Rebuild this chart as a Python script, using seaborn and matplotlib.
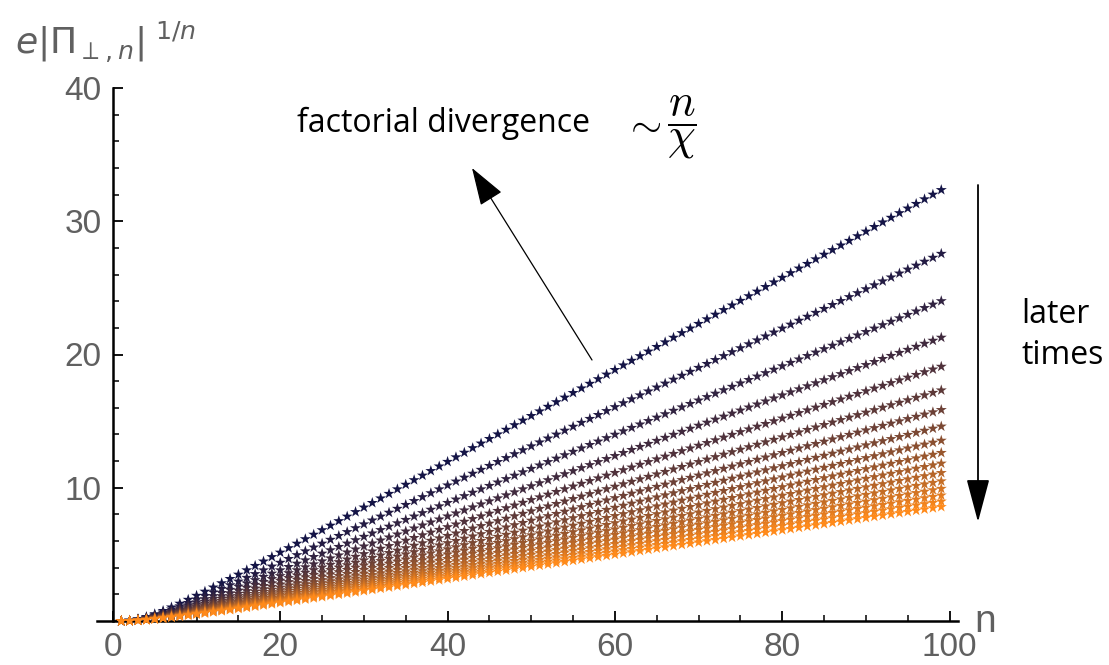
import numpy as np
import pandas as pd
import matplotlib
matplotlib.use("Agg")
import matplotlib.pyplot as plt
import seaborn as sns
from matplotlib.ticker import MultipleLocator

# ---- data ----
n_values = list(range(1, 100))
chi_values = [2.88, 3.38, 3.88, 4.38, 4.88, 5.38, 5.88, 6.38, 6.88,
              7.38, 7.88, 8.38, 8.88, 9.38, 9.88, 10.38, 10.88]
offset_b = 6.0
x_ticks = [0, 20, 40, 60, 80, 100]
y_ticks = [10, 20, 30, 40]

rows = []
for k, chi in enumerate(chi_values):
    for n in n_values:
        rows.append({"n": n, "val": (n / chi) * np.exp(-offset_b / n), "curve": k})
df = pd.DataFrame(rows)

# colours: navy -> orange
c0 = np.array([0x14, 0x14, 0x46]) / 255
c1 = np.array([0xff, 0x8a, 0x1a]) / 255
palette = [tuple(c0 + (c1 - c0) * t) for t in np.linspace(0, 1, len(chi_values))]

sns.set_theme(style="white")
plt.rcParams['font.family'] = ['Liberation Sans', 'DejaVu Sans']
plt.rcParams['mathtext.fontset'] = 'dejavusans'

W, H = 1109, 665
fig = plt.figure(figsize=(W / 100, H / 100), dpi=100)
ax = fig.add_axes([97 / W, 1 - 621 / H, 861 / W, (621 - 88) / H])

sns.scatterplot(data=df, x="n", y="val", hue="curve", palette=palette,
                marker="*", s=70, linewidth=0, legend=False, ax=ax,
                clip_on=False, zorder=3)

ax.set_xlim(-1.9, 101)
ax.set_ylim(0, 40)
ax.set_xlabel("")
ax.set_ylabel("")

for s in ["top", "right"]:
    ax.spines[s].set_visible(False)
ax.spines["left"].set_position(("data", 0))
for s in ["left", "bottom"]:
    ax.spines[s].set_color("black")
    ax.spines[s].set_linewidth(1.8)

gray = "#606060"
ax.set_xticks(x_ticks)
ax.set_yticks(y_ticks)
ax.xaxis.set_minor_locator(MultipleLocator(5))
ax.yaxis.set_minor_locator(MultipleLocator(2))
ax.tick_params(axis="both", which="major", direction="in", length=7, width=1.3,
               color="black", labelsize=24, labelcolor=gray, pad=8,
               bottom=True, left=True)
ax.tick_params(axis="both", which="minor", direction="in", length=4.5, width=1.1,
               color="black", bottom=True, left=True)
ax.grid(False)

# axis labels
fig.text(985 / W, 1 - 622 / H, "n", fontsize=28, color=gray, ha="center", va="center")
fig.text(15 / W, 1 - 42 / H, r"$e|\Pi_{\perp,n}|^{\ 1/n}$", fontsize=26,
         color=gray, ha="left", va="center")

# annotations
fig.text(297 / W, 1 - 123 / H, "factorial divergence", fontsize=23,
         family="Open Sans", color="black", ha="left", va="center")
fig.text(642 / W, 1 - 124 / H, r"$\sim$", fontsize=29,
         math_fontfamily="cm", color="black", ha="center", va="center")
fig.text(682 / W, 1 - 127 / H, r"$\dfrac{n}{\chi}$", fontsize=32,
         math_fontfamily="cm", color="black", ha="center", va="center")
fig.text(1021 / W, 1 - 335 / H, "later\ntimes", fontsize=23, family="Open Sans",
         color="black", ha="left", va="center", linespacing=1.3)

ax.annotate("", xy=(472, H - 168), xycoords="figure pixels",
            xytext=(592, H - 360), textcoords="figure pixels",
            arrowprops=dict(arrowstyle="-|>,head_length=1.2,head_width=0.4",
                            mutation_scale=20, lw=0.9, color="black",
                            shrinkA=0, shrinkB=0))
ax.annotate("", xy=(978, H - 522), xycoords="figure pixels",
            xytext=(978, H - 185), textcoords="figure pixels",
            arrowprops=dict(arrowstyle="-|>,head_length=1.35,head_width=0.36",
                            mutation_scale=20, lw=1.3, color="black",
                            shrinkA=0, shrinkB=0))

fig.savefig("out.png", dpi=100)
